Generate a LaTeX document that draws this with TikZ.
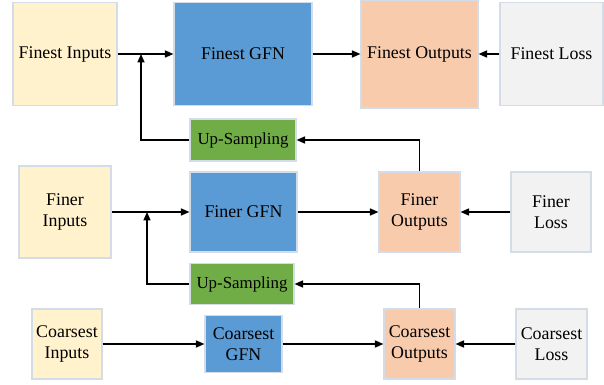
\documentclass[tikz,border=0pt]{standalone}
\usepackage{fontspec}
\setmainfont{Liberation Serif}
\usetikzlibrary{arrows.meta}
\definecolor{inputfill}{RGB}{255,242,204}
\definecolor{gfnfill}{RGB}{91,155,213}
\definecolor{outfill}{RGB}{248,203,173}
\definecolor{lossfill}{RGB}{242,242,242}
\definecolor{upfill}{RGB}{112,173,71}
\definecolor{boxline}{RGB}{212,220,232}
\tikzset{
    every picture/.style={
        x=0.025cm,y=-0.025cm,>={Triangle[length=6pt,width=5pt]},
        every node/.style={font=\fontsize{12.7}{14.5}\selectfont,align=center,inner sep=0pt},
        box/.style={draw=boxline,line width=.8pt},
        inbox/.style={box,fill=inputfill},
        gfnbox/.style={box,fill=gfnfill},
        outbox/.style={box,fill=outfill},
        lossbox/.style={box,fill=lossfill},
        upbox/.style={box,fill=upfill,font=\fontsize{12}{14}\selectfont},
        link/.style={->,line width=1pt}
    }
}

\begin{document}
\begin{tikzpicture}
    \useasboundingbox (0,0) rectangle (604,385);
    % finest level
    \node[inbox,minimum width=2.6cm,minimum height=2.575cm]     (in1)   at (65,54)    {Finest Inputs};
    \node[gfnbox,minimum width=3.45cm,minimum height=2.575cm]   (gfn1)  at (243,54)   {Finest GFN};
    \node[outbox,minimum width=2.925cm,minimum height=2.7cm]    (out1)  at (419.5,54) {Finest Outputs};
    \node[lossbox,minimum width=2.575cm,minimum height=2.575cm] (loss1) at (551.5,54) {Finest Loss};
    \node[upbox,minimum width=2.65cm,minimum height=1.05cm]     (up1)   at (243,140)  {Up-Sampling};
    % finer level
    \node[inbox,minimum width=2.3cm,minimum height=2.3cm]       (in2)   at (65,212)    {Finer\\Inputs};
    \node[gfnbox,minimum width=2.675cm,minimum height=2cm]      (gfn2)  at (243.5,212) {Finer GFN};
    \node[outbox,minimum width=2.025cm,minimum height=2cm]      (out2)  at (419.5,212) {Finer\\Outputs};
    \node[lossbox,minimum width=2cm,minimum height=2cm]         (loss2) at (551,212)   {Finer\\Loss};
    \node[upbox,minimum width=2.6cm,minimum height=1.025cm]     (up2)   at (242,284)   {Up-Sampling};
    % coarsest level
    \node[inbox,minimum width=1.75cm,minimum height=1.75cm]     (in3)   at (67,344)    {Coarsest\\Inputs};
    \node[gfnbox,minimum width=1.925cm,minimum height=1.425cm]  (gfn3)  at (243.5,344) {Coarsest\\GFN};
    \node[outbox,minimum width=1.775cm,minimum height=1.75cm]   (out3)  at (419.5,344) {Coarsest\\Outputs};
    \node[lossbox,minimum width=1.775cm,minimum height=1.75cm]  (loss3) at (551.5,344) {Coarsest\\Loss};
    \coordinate (j1) at (141,54);
    \coordinate (j2) at (147,212);

    \draw[link] (in1) -- (gfn1);
    \draw[link] (gfn1) -- (out1);
    \draw[link] (loss1) -- (out1);
    \draw[link] (in2) -- (gfn2);
    \draw[link] (gfn2) -- (out2);
    \draw[link] (loss2) -- (out2);
    \draw[link] (in3) -- (gfn3);
    \draw[link] (gfn3) -- (out3);
    \draw[link] (loss3) -- (out3);
    \draw[link] (out2.north) |- (up1);
    \draw[link] (up1) -| (j1);
    \draw[link] (out3.north) |- (up2);
    \draw[link] (up2) -| (j2);
\end{tikzpicture}
\end{document}
